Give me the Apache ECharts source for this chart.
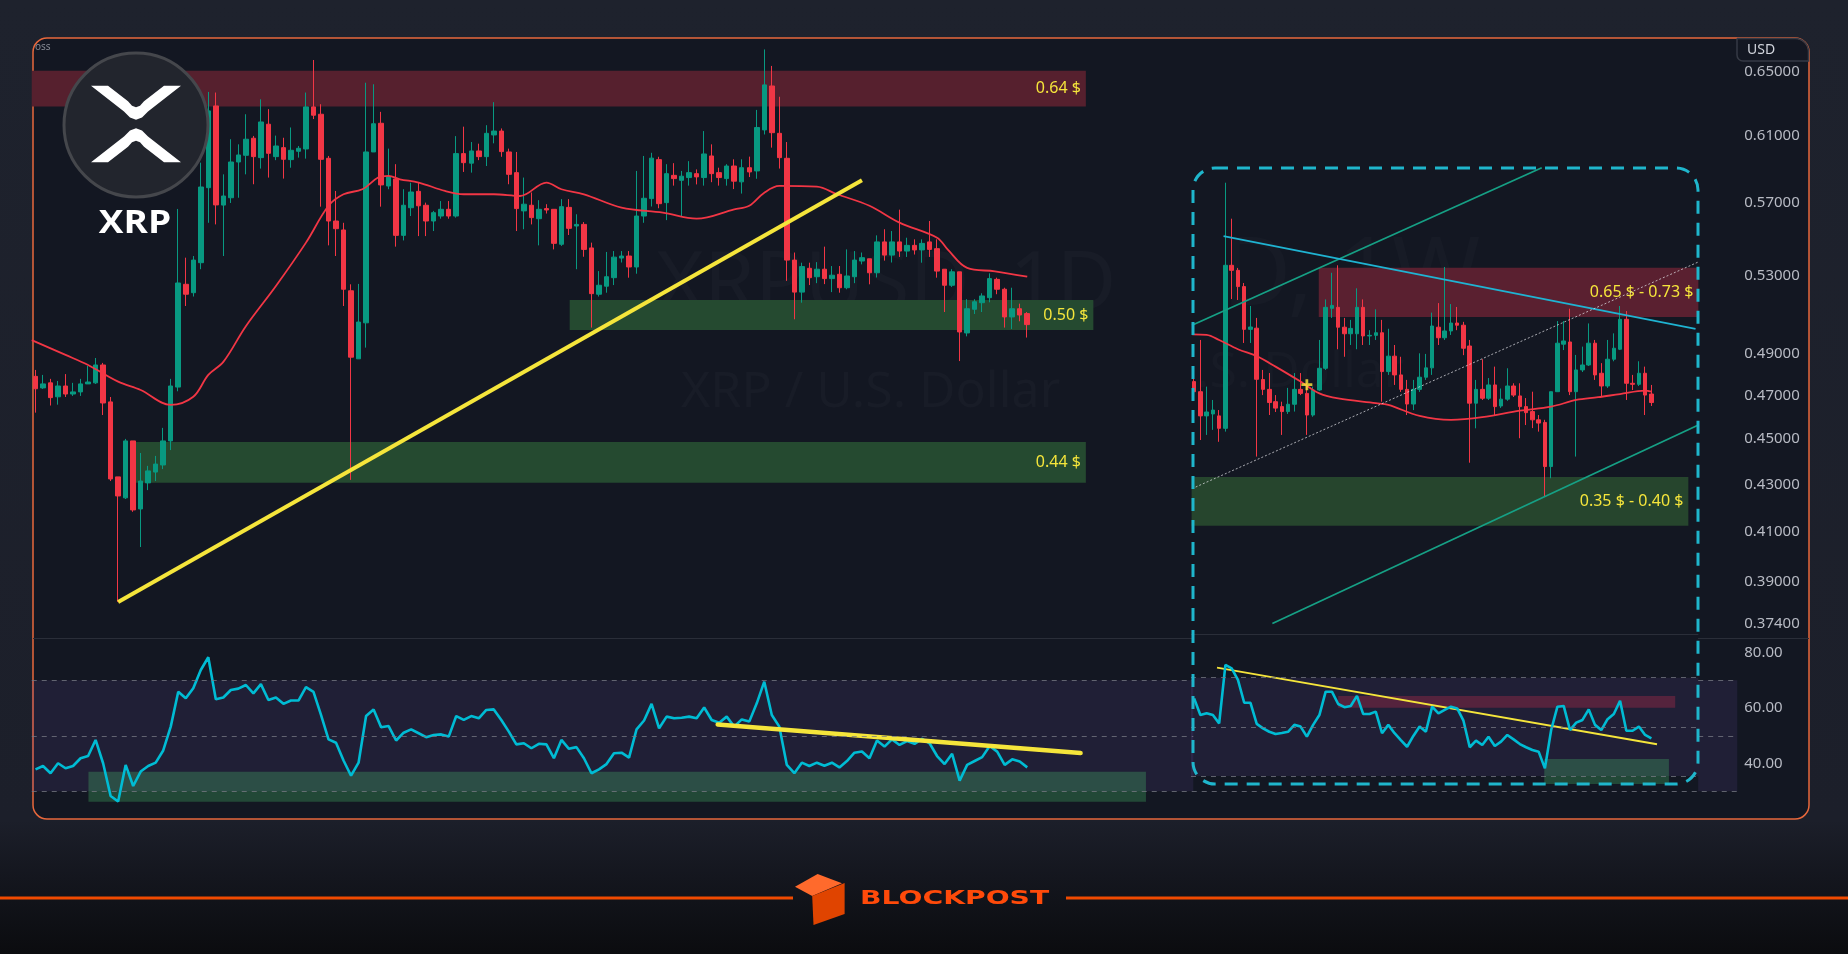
<!DOCTYPE html>
<html>
<head>
<meta charset="utf-8">
<title>XRP / U.S. Dollar</title>
<script src="https://cdn.jsdelivr.net/npm/echarts@6/dist/echarts.min.js"></script>
<style>
  html, body { margin: 0; padding: 0; width: 1848px; height: 954px; overflow: hidden;
    background: linear-gradient(180deg, #1e222d 0%, #1c1f2a 86%, #14161e 92%, #0b0c0f 100%); }
  #chart { width: 1848px; height: 954px; }
</style>
</head>
<body>
<div id="chart"></div>
<script>
// daily candles: [open, close, low, high]
const dailyCandles = [
  [0.4791,0.4732,0.4620,0.4822],[0.4736,0.4755,0.4731,0.4798],[0.4760,0.4690,0.4653,0.4779],[0.4694,0.4745,0.4657,0.4769],
  [0.4745,0.4707,0.4693,0.4802],[0.4707,0.4717,0.4698,0.4760],[0.4717,0.4755,0.4698,0.4779],[0.4755,0.4764,0.4755,0.4841],
  [0.4760,0.4846,0.4755,0.4880],[0.4846,0.4665,0.4609,0.4856],[0.4670,0.4323,0.4314,0.4693],[0.4332,0.4250,0.3822,0.4332],
  [0.4242,0.4491,0.4237,0.4500],[0.4491,0.4191,0.4183,0.4491],[0.4195,0.4314,0.4038,0.4437],[0.4306,0.4358,0.4275,0.4380],
  [0.4353,0.4388,0.4314,0.4424],[0.4384,0.4491,0.4366,0.4550],[0.4491,0.4745,0.4450,0.4779],[0.4740,0.5261,0.4720,0.5666],
  [0.5254,0.5202,0.5141,0.5396],[0.5210,0.5383,0.5190,0.5405],[0.5369,0.5792,0.5334,0.5935],[0.5788,0.6251,0.5588,0.6371],
  [0.6282,0.5689,0.5579,0.6367],[0.5688,0.5740,0.5405,0.5866],[0.5730,0.5939,0.5700,0.6076],[0.5939,0.5981,0.5730,0.6045],
  [0.5979,0.6076,0.5866,0.6230],[0.6082,0.5971,0.5808,0.6096],[0.5965,0.6182,0.5900,0.6324],[0.6168,0.5991,0.5847,0.6262],
  [0.5971,0.6035,0.5950,0.6098],[0.6025,0.5955,0.5841,0.6085],[0.5953,0.6009,0.5905,0.6148],[0.6003,0.6021,0.5965,0.6035],
  [0.6017,0.6276,0.5959,0.6367],[0.6276,0.6224,0.6200,0.6578],[0.6230,0.5955,0.5679,0.6293],[0.5961,0.5598,0.5463,0.5975],
  [0.5598,0.5555,0.5405,0.5769],[0.5548,0.5228,0.5141,0.5588],[0.5220,0.4884,0.4319,0.5254],[0.4876,0.5059,0.4876,0.5256],
  [0.5055,0.5999,0.4931,0.6430],[0.5999,0.6171,0.5999,0.6420],[0.6174,0.5804,0.5679,0.6245],[0.5798,0.5853,0.5779,0.6019],
  [0.5839,0.5518,0.5456,0.5926],[0.5518,0.5687,0.5490,0.5779],[0.5673,0.5763,0.5626,0.5817],[0.5767,0.5684,0.5514,0.5817],
  [0.5687,0.5598,0.5514,0.5702],[0.5598,0.5645,0.5542,0.5655],[0.5626,0.5664,0.5611,0.5711],[0.5664,0.5626,0.5611,0.5711],
  [0.5626,0.5989,0.5617,0.6095],[0.5989,0.5935,0.5880,0.6153],[0.5932,0.6005,0.5876,0.6059],[0.6005,0.5971,0.5950,0.6049],
  [0.5971,0.6112,0.5915,0.6162],[0.6102,0.6126,0.6051,0.6306],[0.6126,0.6001,0.5970,0.6142],[0.5999,0.5866,0.5808,0.6019],
  [0.5876,0.5668,0.5542,0.5999],[0.5655,0.5693,0.5552,0.5847],[0.5687,0.5617,0.5579,0.5760],[0.5611,0.5664,0.5463,0.5716],
  [0.5668,0.5660,0.5640,0.5693],[0.5664,0.5474,0.5441,0.5664],[0.5469,0.5679,0.5460,0.5722],[0.5675,0.5557,0.5520,0.5722],
  [0.5570,0.5579,0.5334,0.5636],[0.5579,0.5441,0.5401,0.5592],[0.5449,0.5205,0.5031,0.5478],[0.5202,0.5249,0.5190,0.5324],
  [0.5244,0.5294,0.5210,0.5427],[0.5289,0.5399,0.5250,0.5432],[0.5394,0.5405,0.5370,0.5432],[0.5405,0.5346,0.5289,0.5432],
  [0.5346,0.5626,0.5310,0.5886],[0.5626,0.5727,0.5588,0.5975],[0.5725,0.5962,0.5680,0.5994],[0.5953,0.5696,0.5670,0.5970],
  [0.5702,0.5870,0.5603,0.5926],[0.5860,0.5841,0.5800,0.5932],[0.5831,0.5855,0.5622,0.5886],[0.5847,0.5876,0.5800,0.5944],
  [0.5870,0.5851,0.5807,0.5895],[0.5847,0.5987,0.5800,0.6126],[0.5975,0.5870,0.5820,0.6045],[0.5876,0.5847,0.5800,0.5905],
  [0.5841,0.5915,0.5800,0.5926],[0.5915,0.5826,0.5780,0.5955],[0.5822,0.5905,0.5754,0.5955],[0.5905,0.5880,0.5850,0.5971],
  [0.5886,0.6148,0.5840,0.6257],[0.6133,0.6416,0.6105,0.6648],[0.6409,0.6116,0.6025,0.6539],[0.6112,0.5965,0.5900,0.6340],
  [0.5961,0.5383,0.5272,0.6059],[0.5383,0.5213,0.5073,0.5424],[0.5213,0.5348,0.5158,0.5369],[0.5339,0.5289,0.5250,0.5369],
  [0.5294,0.5334,0.5260,0.5372],[0.5334,0.5284,0.5255,0.5456],[0.5284,0.5302,0.5213,0.5351],[0.5307,0.5236,0.5210,0.5351],
  [0.5236,0.5298,0.5228,0.5441],[0.5294,0.5383,0.5260,0.5432],[0.5378,0.5396,0.5360,0.5424],[0.5390,0.5315,0.5254,0.5390],
  [0.5315,0.5482,0.5290,0.5518],[0.5482,0.5410,0.5380,0.5552],[0.5410,0.5482,0.5370,0.5542],[0.5482,0.5432,0.5400,0.5662],
  [0.5432,0.5463,0.5400,0.5505],[0.5463,0.5438,0.5413,0.5496],[0.5438,0.5474,0.5369,0.5496],[0.5482,0.5441,0.5400,0.5598],
  [0.5445,0.5324,0.5289,0.5496],[0.5334,0.5249,0.5110,0.5334],[0.5249,0.5320,0.5240,0.5334],[0.5320,0.5009,0.4865,0.5320],
  [0.5004,0.5127,0.4987,0.5176],[0.5124,0.5163,0.5100,0.5176],[0.5158,0.5193,0.5110,0.5207],[0.5184,0.5284,0.5160,0.5312],
  [0.5280,0.5228,0.5202,0.5289],[0.5228,0.5085,0.5031,0.5236],[0.5085,0.5127,0.5024,0.5236],[0.5127,0.5095,0.5063,0.5153],
  [0.5102,0.5046,0.4981,0.5110]
];
// red moving average on the daily chart: [candle index, price]
const dailyMA = [
  [-0.5,0.4968],[4,0.4895],[7,0.4846],[11,0.4766],[14,0.4726],[18,0.4656],[21,0.4694],[23,0.4798],[25,0.4861],
  [28,0.5038],[32,0.5245],[36,0.5478],[39,0.5684],[41,0.5750],[43.5,0.5779],[45.6,0.5847],[47,0.5857],[48.5,0.5837],
  [51,0.5818],[54.5,0.5769],[57,0.5750],[61,0.5750],[64.5,0.5740],[68,0.5818],[70,0.5779],[73,0.5750],[78,0.5674],
  [83.5,0.5645],[88,0.5611],[93,0.5664],[95,0.5684],[97,0.5759],[99,0.5798],[104,0.5794],[106.7,0.5750],[111,0.5684],
  [115,0.5589],[120,0.5505],[121.4,0.5441],[124,0.5341],[127.7,0.5323],[132,0.5294]
];
const dailyRSI = [
  37.9,39.1,36.5,40.1,38.3,39.1,41.9,42.7,48.5,40.1, 28.3,26.3,39.5,31.9,37.1,39.1,40.3,44.7,53.3,65.9,
  63.5,67.1,73.7,78.3,63.2,63.8,66.5,67.0,68.3,65.3, 68.6,62.9,63.8,61.5,62.7,62.7,67.5,65.8,57.5,48.7,
  47.5,41.1,35.6,40.3,57.1,59.5,53.1,53.5,48.3,51.1, 52.3,50.9,49.5,50.3,50.5,49.7,57.1,55.7,57.1,56.3,
  59.3,59.5,55.7,51.5,46.9,47.3,45.5,47.1,46.9,41.9, 48.5,45.3,45.9,41.9,36.5,37.9,39.8,43.7,43.9,42.1,
  52.3,55.5,61.5,52.7,56.9,56.3,56.5,56.9,56.3,60.2, 55.7,54.7,56.9,53.3,55.9,55.1,61.7,69.5,57.5,53.3,
  39.5,36.5,40.3,39.1,40.3,39.2,40.3,38.6,40.9,43.9, 44.3,41.9,48.3,46.1,48.7,46.7,48.1,47.1,48.9,47.3,
  42.7,39.8,43.5,33.8,39.5,40.9,42.3,46.3,44.3,39.5, 41.5,40.7,38.6
];

// weekly inset candles: [open, close, low, high]
const weeklyCandles = [
  [0.4766,0.4718,0.4688,0.4812],[0.4718,0.4605,0.4495,0.4969],[0.4605,0.4623,0.4518,0.4742],[0.4614,0.4632,0.4541,0.4679],
  [0.4605,0.4548,0.4487,0.4632],[0.4548,0.5355,0.4533,0.5817],[0.5355,0.5328,0.5177,0.5611],[0.5328,0.5242,0.5172,0.5341],
  [0.5242,0.5022,0.4954,0.5261],[0.5022,0.5034,0.4954,0.5141],[0.5028,0.4777,0.4421,0.5080],[0.4776,0.4729,0.4702,0.4822],
  [0.4729,0.4667,0.4609,0.4807],[0.4671,0.4641,0.4623,0.4702],[0.4648,0.4625,0.4518,0.4671],[0.4625,0.4659,0.4614,0.4736],
  [0.4659,0.4729,0.4625,0.4807],[0.4729,0.4710,0.4702,0.4807],[0.4710,0.4609,0.4518,0.4759],[0.4609,0.4726,0.4601,0.4742],
  [0.4726,0.4830,0.4722,0.4969],[0.4830,0.5134,0.4822,0.5175],[0.5129,0.5144,0.5080,0.5315],[0.5134,0.5033,0.4923,0.5355],
  [0.5033,0.5000,0.4886,0.5080],[0.5000,0.5027,0.4944,0.5070],[0.5000,0.5134,0.4923,0.5233],[0.5134,0.4989,0.4944,0.5175],
  [0.4989,0.4992,0.4944,0.5018],[0.4992,0.5005,0.4969,0.5124],[0.5005,0.4814,0.4671,0.5070],[0.4814,0.4889,0.4798,0.5025],
  [0.4889,0.4798,0.4750,0.4944],[0.4798,0.4729,0.4717,0.4886],[0.4729,0.4660,0.4609,0.4774],[0.4660,0.4729,0.4632,0.4774],
  [0.4729,0.4787,0.4717,0.4903],[0.4787,0.4832,0.4774,0.4900],[0.4832,0.5039,0.4798,0.5107],[0.5033,0.4980,0.4944,0.5156],
  [0.4980,0.5014,0.4969,0.5346],[0.5014,0.5054,0.4994,0.5151],[0.5054,0.5043,0.5018,0.5136],[0.5043,0.4928,0.4894,0.5060],
  [0.4939,0.4664,0.4394,0.4969],[0.4664,0.4729,0.4548,0.4774],[0.4729,0.4687,0.4679,0.4874],[0.4687,0.4750,0.4679,0.4783],
  [0.4750,0.4648,0.4609,0.4838],[0.4651,0.4683,0.4642,0.4733],[0.4683,0.4745,0.4675,0.4830],[0.4745,0.4702,0.4693,0.4758],
  [0.4698,0.4648,0.4503,0.4758],[0.4648,0.4620,0.4563,0.4688],[0.4625,0.4587,0.4549,0.4718],[0.4587,0.4572,0.4533,0.4609],
  [0.4575,0.4377,0.4247,0.4587],[0.4377,0.4718,0.4326,0.4718],[0.4718,0.4953,0.4718,0.5064],[0.4948,0.4964,0.4919,0.5064],
  [0.4959,0.4718,0.4702,0.5127],[0.4718,0.4822,0.4421,0.4895],[0.4822,0.4846,0.4812,0.4936],[0.4846,0.4953,0.4841,0.5052],
  [0.4953,0.4798,0.4774,0.4969],[0.4806,0.4745,0.4694,0.4855],[0.4745,0.4874,0.4736,0.4969],[0.4874,0.4928,0.4864,0.5002],
  [0.4923,0.5073,0.4919,0.5141],[0.5073,0.4758,0.4679,0.5115],[0.4758,0.4753,0.4726,0.4798],[0.4753,0.4806,0.4745,0.4864],
  [0.4806,0.4702,0.4609,0.4838],[0.4707,0.4667,0.4651,0.4750]
];
const weeklyMA = [
  [-0.3,0.4997],[2,0.4994],[4,0.4969],[7,0.4923],[10,0.4889],[13,0.4838],[17,0.4766],[20,0.4710],[23,0.4686],
  [29,0.4664],[31,0.4656],[36,0.4605],[41,0.4587],[46,0.4599],[52,0.4629],[57,0.4648],[61,0.4679],[64.5,0.4692],
  [68,0.4707],[72,0.4723],[73,0.4718]
];
const weeklyRSI = [
  61.6,54.8,55.5,54.8,51.4,75.2,73.8,69.1,59.8,59.8, 51.2,49.4,48.0,47.1,47.5,48.0,50.8,50.1,46.0,50.8,
  54.8,64.3,64.3,59.3,58.0,58.5,62.6,55.2,55.2,56.2, 47.4,50.8,47.4,44.6,41.9,46.3,50.1,48.0,58.2,55.5,
  56.9,58.2,57.5,52.5,41.7,44.4,42.6,46.0,42.2,44.0, 46.7,44.9,43.0,41.7,40.6,39.9,33.1,48.7,58.2,58.5,
  48.7,51.7,52.8,57.1,50.8,48.7,53.1,55.2,60.6,48.4, 48.4,50.1,46.7,45.3
];

const priceTicks = [0.65, 0.61, 0.57, 0.53, 0.49, 0.47, 0.45, 0.43, 0.41, 0.39, 0.374];
const rsiTicks = [40, 60, 80];
const lastPrice = 0.50458;

// zones: [label, from index, to index, low, high]
const dailyResistance = ['0.64 $', -0.5, 139.8, 0.6278, 0.6508];
const dailySupportHigh = ['0.50 $', 71.1, 140.8, 0.5019, 0.5172];
const dailySupportLow = ['0.44 $', 13.06, 139.8, 0.4307, 0.4486];
const weeklyResistanceZone = ['0.65 $ - 0.73 $', 19.9, 80.5, 0.5085, 0.5342];
const weeklySupportZone = ['0.35 $ - 0.40 $', -0.4, 78.9, 0.4125, 0.4332];

// drawn lines: [index, value] end points
const dailyTrend = [[11, 0.3822], [110, 0.5831]];
const rsiTrend = [[90.8, 54.1], [139.1, 43.8]];
const rsiSupport = [7.05, 147.8, 26.2, 37.0];
const weeklyChannelUp = [[-0.34, 0.5043], [55.5, 0.5905]];
const weeklyChannelLow = [[12.5, 0.374], [80.5, 0.4563]];
const weeklyFalling = [[4.7, 0.5514], [80.05, 0.5025]];
const weeklyDotted = [[-0.34, 0.4281], [80.5, 0.5373]];
const weeklyMarker = [[18, 0.4751]];
const weeklyRsiTrend = [[3.66, 74.1], [73.9, 42.9]];
const weeklyRsiRed = [23, 76.8, 57.8, 62.5];
const weeklyRsiGreen = [55.9, 75.8, 26.74, 36.9];

const UP = '#089981', DOWN = '#f23645', YELLOW = '#f5e53b';
const FONT = 'Noto Sans';

const N_MAIN = 227, N_INSET = 81;
const priceMin = 0.36862, priceMax = 0.67246;

const chart = echarts.init(document.getElementById('chart'));

function zoneItem(z, color) {
  return [
    { name: z[0], xAxis: z[1], yAxis: z[4], itemStyle: { color: color },
      label: { show: true, position: 'insideRight', color: YELLOW, fontSize: 16, fontFamily: FONT } },
    { xAxis: z[2], yAxis: z[3] }
  ];
}
function box(xa, xb, ya, yb, color) {
  return [{ xAxis: xa, yAxis: ya, itemStyle: { color: color } }, { xAxis: xb, yAxis: yb }];
}
function seg(x1, x2, y) {
  return [{ coord: [x1, y] }, { coord: [x2, y] }];
}
const dashStyle = { color: 'rgba(120,123,134,0.75)', width: 1, type: [5, 5] };
const band = 'rgba(126,87,194,0.13)';
const greenBand = 'rgba(76,200,110,0.28)';

// XRP mark, two mirrored chevrons
const logoTop = [[91,85.7],[108,85.7],[128,101.3],[132,105.7],[136,107.2],[140,105.7],[144,101.3],[164,85.7],
  [181,85.7],[148,111.4],[142,117.6],[136,119.7],[130,117.6],[124,111.4]];
const logoBottom = logoTop.map(p => [p[0], 248 - p[1]]);

const option = {
  animation: false,
  grid: [
    { left: 31.74, width: 1705.5, top: 38, height: 600 },
    { left: 31.74, width: 1705.5, top: 638, height: 181 },
    { left: 1190.97, width: 507.4, top: 38, height: 600 },
    { left: 1190.97, width: 507.4, top: 641, height: 143 }
  ],
  xAxis: [
    { type: 'category', gridIndex: 0, data: Array.from({ length: N_MAIN }, (_, i) => String(i)), show: false },
    { type: 'value', gridIndex: 0, min: -0.5, max: N_MAIN - 0.5, show: false },
    { type: 'value', gridIndex: 1, min: -0.5, max: N_MAIN - 0.5, show: false },
    { type: 'category', gridIndex: 2, data: Array.from({ length: N_INSET }, (_, i) => String(i)), show: false },
    { type: 'value', gridIndex: 2, min: -0.5, max: N_INSET - 0.5, show: false },
    { type: 'value', gridIndex: 3, min: -0.5, max: N_INSET - 0.5, show: false }
  ],
  yAxis: [
    { type: 'log', gridIndex: 0, min: priceMin, max: priceMax, position: 'right',
      axisLine: { show: false }, axisTick: { show: false }, splitLine: { show: false },
      axisLabel: { customValues: priceTicks, formatter: v => Number(v).toFixed(5), color: '#b8bbc4',
        fontSize: 15, fontFamily: FONT, margin: 7 } },
    { type: 'value', gridIndex: 1, min: 20, max: 85.24, position: 'right',
      axisLine: { show: false }, axisTick: { show: false }, splitLine: { show: false },
      axisLabel: { customValues: rsiTicks, formatter: v => Number(v).toFixed(2), color: '#b8bbc4',
        fontSize: 15, fontFamily: FONT, margin: 7 } },
    { type: 'log', gridIndex: 2, min: priceMin, max: priceMax, show: false },
    { type: 'value', gridIndex: 3, min: 26.74, max: 84.93, show: false }
  ],
  series: [
    // daily zones
    { type: 'line', xAxisIndex: 1, yAxisIndex: 0, data: [], silent: true,
      markArea: { silent: true, data: [
        zoneItem(dailyResistance, '#56202e'),
        zoneItem(dailySupportHigh, '#254a30'),
        zoneItem(dailySupportLow, '#254a30')
      ] } },
    { type: 'candlestick', xAxisIndex: 0, yAxisIndex: 0, data: dailyCandles, barWidth: 5,
      itemStyle: { color: UP, color0: DOWN, borderColor: UP, borderColor0: DOWN, borderWidth: 1 },
      markLine: { silent: true, symbol: ['none', 'none'], data: [{ yAxis: lastPrice }],
        lineStyle: { opacity: 0 },
        label: { show: true, position: 'end', distance: 4, formatter: lastPrice.toFixed(5),
          backgroundColor: DOWN, color: '#fff', fontSize: 15, fontFamily: FONT, padding: [4, 5, 3, 5] } } },
    { type: 'line', xAxisIndex: 1, yAxisIndex: 0, data: dailyMA, showSymbol: false, smooth: 0.35,
      lineStyle: { color: DOWN, width: 1.8 }, silent: true, z: 3 },
    { type: 'line', xAxisIndex: 1, yAxisIndex: 0, data: dailyTrend, showSymbol: false,
      lineStyle: { color: YELLOW, width: 4 }, silent: true, z: 4 },

    // daily RSI
    { type: 'line', xAxisIndex: 2, yAxisIndex: 1, data: dailyRSI.map((v, i) => [i, v]), showSymbol: false,
      lineStyle: { color: '#00bcd4', width: 2.6 }, silent: true, z: 3,
      markArea: { silent: true, data: [
        box(-0.5, 154.1, 70, 30, band), box(221.3, N_MAIN - 0.5, 70, 30, band),
        box(rsiSupport[0], rsiSupport[1], rsiSupport[3], rsiSupport[2], greenBand)
      ] },
      markLine: { silent: true, symbol: ['none', 'none'], label: { show: false }, lineStyle: dashStyle,
        data: [seg(-0.5, 154.1, 70), seg(221.3, N_MAIN - 0.5, 70), seg(-0.5, 154.1, 50),
               seg(221.3, N_MAIN - 0.5, 50), seg(-0.5, N_MAIN - 0.5, 30)] } },
    { type: 'line', xAxisIndex: 2, yAxisIndex: 1, data: rsiTrend, showSymbol: false,
      lineStyle: { color: YELLOW, width: 4.5, cap: 'round' }, silent: true, z: 4 },

    // weekly inset
    { type: 'line', xAxisIndex: 4, yAxisIndex: 2, data: [], silent: true,
      markArea: { silent: true, data: [
        zoneItem(weeklyResistanceZone, '#5a2030'),
        zoneItem(weeklySupportZone, '#26452d')
      ] } },
    { type: 'candlestick', xAxisIndex: 3, yAxisIndex: 2, data: weeklyCandles, barWidth: 4,
      itemStyle: { color: UP, color0: DOWN, borderColor: UP, borderColor0: DOWN, borderWidth: 1 },
      markLine: { silent: true, symbol: ['none', 'none'], label: { show: false },
        lineStyle: { color: '#2a2e39', width: 1, type: 'solid' }, data: [{ yAxis: 0.374 }] } },
    { type: 'line', xAxisIndex: 4, yAxisIndex: 2, data: weeklyMA, showSymbol: false, smooth: 0.35,
      lineStyle: { color: DOWN, width: 1.8 }, silent: true, z: 3 },
    { type: 'line', xAxisIndex: 4, yAxisIndex: 2, data: weeklyChannelUp, showSymbol: false,
      lineStyle: { color: '#16a085', width: 1.8 }, silent: true, z: 4 },
    { type: 'line', xAxisIndex: 4, yAxisIndex: 2, data: weeklyChannelLow, showSymbol: false,
      lineStyle: { color: '#16a085', width: 1.8 }, silent: true, z: 4 },
    { type: 'line', xAxisIndex: 4, yAxisIndex: 2, data: weeklyFalling, showSymbol: false,
      lineStyle: { color: '#1fb3d2', width: 1.8 }, silent: true, z: 4 },
    { type: 'line', xAxisIndex: 4, yAxisIndex: 2, data: weeklyDotted, showSymbol: false,
      lineStyle: { color: 'rgba(220,220,225,0.75)', width: 1, type: [2, 2] }, silent: true, z: 4 },
    { type: 'scatter', xAxisIndex: 4, yAxisIndex: 2, data: weeklyMarker, silent: true, z: 5,
      symbol: 'path://M3,0 H5 V3 H8 V5 H5 V8 H3 V5 H0 V3 H3 Z', symbolSize: 11,
      itemStyle: { color: '#ffeb3b' } },

    // weekly RSI
    { type: 'line', xAxisIndex: 5, yAxisIndex: 3, data: weeklyRSI.map((v, i) => [i, v]), showSymbol: false,
      lineStyle: { color: '#00bcd4', width: 2.6 }, silent: true, z: 3,
      markArea: { silent: true, data: [
        box(-0.5, N_INSET - 0.5, 70, 30, band),
        box(weeklyRsiRed[0], weeklyRsiRed[1], weeklyRsiRed[3], weeklyRsiRed[2], 'rgba(150,40,70,0.45)'),
        box(weeklyRsiGreen[0], weeklyRsiGreen[1], weeklyRsiGreen[3], weeklyRsiGreen[2], greenBand)
      ] },
      markLine: { silent: true, symbol: ['none', 'none'], label: { show: false }, lineStyle: dashStyle,
        data: [{ yAxis: 70 }, { yAxis: 50 }, { yAxis: 30 }] } },
    { type: 'line', xAxisIndex: 5, yAxisIndex: 3, data: weeklyRsiTrend, showSymbol: false,
      lineStyle: { color: YELLOW, width: 2 }, silent: true, z: 2 }
  ],
  graphic: [
    // panel frame
    { type: 'rect', z: 0, shape: { x: 33, y: 38, width: 1776, height: 781, r: 14 },
      style: { fill: '#131722', stroke: '#e8683c', lineWidth: 1.5 } },
    // watermarks
    { type: 'text', z: 0, x: 656, y: 287, style: { text: 'XRPUSD, 1D', font: '82px "Noto Sans"',
      fill: 'rgba(255,255,255,0.022)', verticalAlign: 'middle' } },
    { type: 'text', z: 0, x: 681, y: 393, style: { text: 'XRP / U.S. Dollar', font: '50px "Noto Sans"',
      fill: 'rgba(255,255,255,0.022)', verticalAlign: 'middle' } },
    { type: 'text', z: 0, x: 1222, y: 278, style: { text: 'D, 1W', font: '95px "Noto Sans"',
      fill: 'rgba(255,255,255,0.02)', verticalAlign: 'middle' } },
    { type: 'text', z: 0, x: 1196, y: 373, style: { text: '.S. Dollar', font: '50px "Noto Sans"',
      fill: 'rgba(255,255,255,0.02)', verticalAlign: 'middle' } },
    { type: 'text', z: 0, x: 35, y: 47, style: { text: 'oss', font: '10px "Noto Sans"', fill: '#868993',
      verticalAlign: 'middle' } },
    // pane separator (hidden behind the inset)
    { type: 'line', z: 0, shape: { x1: 33, y1: 638.5, x2: 1193, y2: 638.5 },
      style: { stroke: '#2a2e39', lineWidth: 1 } },
    { type: 'line', z: 0, shape: { x1: 1698, y1: 638.5, x2: 1809, y2: 638.5 },
      style: { stroke: '#2a2e39', lineWidth: 1 } },
    // currency box
    { type: 'rect', z: 20, shape: { x: 1737, y: 38.5, width: 71.5, height: 22.5, r: [0, 13, 0, 6] },
      style: { fill: 'none', stroke: '#363a45', lineWidth: 1.5 } },
    { type: 'text', z: 20, x: 1747, y: 50, style: { text: 'USD', font: '14px "Noto Sans"', fill: '#d1d4dc',
      verticalAlign: 'middle' } },
    // XRP logo
    { type: 'circle', z: 20, shape: { cx: 136, cy: 125, r: 72 },
      style: { fill: '#22252d', stroke: '#45474c', lineWidth: 3 } },
    { type: 'polygon', z: 21, shape: { points: logoTop }, style: { fill: '#ffffff' } },
    { type: 'polygon', z: 21, shape: { points: logoBottom }, style: { fill: '#ffffff' } },
    { type: 'text', z: 21, x: 135, y: 224, scaleX: 1.12, style: { text: 'XRP', font: 'bold 33px "Open Sans"',
      fill: '#ffffff', align: 'center', verticalAlign: 'middle' } },
    // weekly inset outline
    { type: 'rect', z: 30, shape: { x: 1193, y: 168, width: 505, height: 616, r: 22 },
      style: { fill: 'none', stroke: '#1fb6cc', lineWidth: 3, lineDash: [13, 9] } },
    // footer
    { type: 'line', z: 0, shape: { x1: 0, y1: 898, x2: 793, y2: 898 }, style: { stroke: '#f04a00', lineWidth: 3 } },
    { type: 'line', z: 0, shape: { x1: 1066, y1: 898, x2: 1848, y2: 898 }, style: { stroke: '#f04a00', lineWidth: 3 } },
    { type: 'polygon', z: 1, shape: { points: [[795, 886.7], [817.6, 874], [842, 883.3], [812.2, 896]] },
      style: { fill: '#ff6a2c' } },
    { type: 'polygon', z: 1, shape: { points: [[812.2, 896], [844.6, 883], [844.6, 914], [813.5, 925]] },
      style: { fill: '#e04400' } },
    { type: 'text', z: 1, x: 860, y: 899, scaleX: 1.41, style: { text: 'BLOCKPOST', font: 'bold 20px "DejaVu Sans"',
      fill: '#ff4a0a', verticalAlign: 'middle', shadowColor: 'rgba(0,0,0,0.8)', shadowBlur: 3, shadowOffsetY: 2 } }
  ]
};

chart.setOption(option);
</script>
</body>
</html>
